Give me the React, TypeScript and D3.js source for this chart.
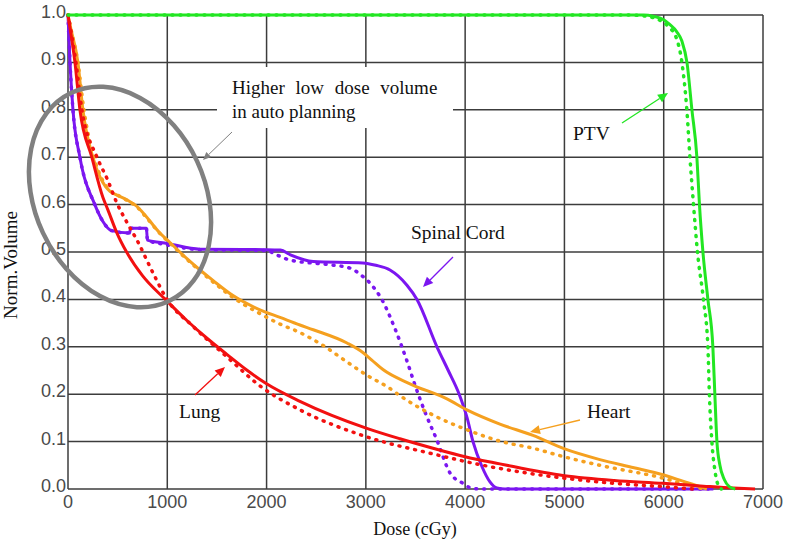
import React from "react";
import * as d3 from "d3";

// ---- Data (dose in cGy, normalised volume) ----
const xTicks = [0, 1000, 2000, 3000, 4000, 5000, 6000, 7000];
const yTicks = [0, 0.1, 0.2, 0.3, 0.4, 0.5, 0.6, 0.7, 0.8, 0.9, 1.0];

const ptvSolid: [number, number][] = [
  [0, 1], [5800, 1], [5900, 0.997], [6000, 0.99], [6060, 0.98], [6130, 0.965], [6183, 0.945],
  [6234, 0.9], [6284, 0.8], [6334, 0.7], [6360, 0.6], [6395, 0.5], [6445, 0.4], [6495, 0.3],
  [6515, 0.2], [6536, 0.1], [6566, 0.05], [6610, 0.02], [6660, 0.005], [6720, 0],
];
const ptvDotted: [number, number][] = [
  [0, 1], [5650, 1], [5800, 0.998], [5950, 0.99], [6050, 0.975], [6130, 0.95], [6183, 0.9],
  [6233, 0.8], [6264, 0.7], [6300, 0.6], [6340, 0.5], [6400, 0.4], [6445, 0.3], [6460, 0.2],
  [6485, 0.1], [6515, 0.04], [6545, 0.01], [6580, 0],
];
const cordSolid: [number, number][] = [
  [0, 1], [20, 0.9], [50, 0.8], [120, 0.7], [270, 0.6], [350, 0.565], [440, 0.545], [620, 0.54],
  [630, 0.55], [790, 0.55], [800, 0.525], [1000, 0.518], [1330, 0.506], [2000, 0.505],
  [2140, 0.504], [2240, 0.494], [2470, 0.48], [2970, 0.477], [3100, 0.472], [3243, 0.462],
  [3414, 0.43], [3515, 0.4], [3716, 0.3], [3830, 0.25], [3940, 0.2], [4020, 0.15], [4079, 0.1],
  [4170, 0.047], [4250, 0.015], [4320, 0.002], [4400, 0], [6500, 0],
];
const cordDotted: [number, number][] = [
  [0, 1], [20, 0.9], [50, 0.8], [120, 0.7], [270, 0.6], [350, 0.565], [440, 0.545], [620, 0.54],
  [630, 0.55], [790, 0.55], [800, 0.525], [1000, 0.515], [1330, 0.505], [2000, 0.503],
  [2100, 0.494], [2236, 0.483], [2640, 0.473], [2840, 0.466], [2960, 0.45], [3060, 0.43],
  [3160, 0.4], [3290, 0.34], [3414, 0.27], [3494, 0.22], [3600, 0.16], [3716, 0.103],
  [3847, 0.034], [3978, 0.012], [4060, 0.002], [4150, 0], [6450, 0],
];
const heartSolid: [number, number][] = [
  [0, 1], [30, 0.97], [100, 0.9], [150, 0.8], [250, 0.7], [330, 0.655], [423, 0.628], [493, 0.62],
  [594, 0.61], [695, 0.596], [755, 0.583], [926, 0.54], [1027, 0.52], [1198, 0.486], [1330, 0.462],
  [1460, 0.44], [1662, 0.408], [1933, 0.378], [2135, 0.362], [2336, 0.346], [2470, 0.336],
  [2810, 0.308], [2970, 0.288], [3060, 0.272], [3172, 0.252], [3444, 0.222], [3817, 0.19],
  [4018, 0.167], [4350, 0.137], [4683, 0.113], [4995, 0.085], [5357, 0.062], [5700, 0.045],
  [5992, 0.03], [6200, 0.016], [6364, 0.005], [6435, 0],
];
const heartDotted: [number, number][] = [
  [0, 1], [30, 0.97], [100, 0.9], [160, 0.8], [260, 0.7], [340, 0.655], [430, 0.628], [500, 0.62],
  [600, 0.608], [700, 0.594], [760, 0.58], [930, 0.538], [1030, 0.518], [1200, 0.484],
  [1330, 0.46], [1460, 0.437], [1662, 0.404], [1933, 0.37], [2135, 0.348], [2336, 0.33],
  [2568, 0.303], [2810, 0.268], [3010, 0.24], [3243, 0.212], [3343, 0.197],
  [3676, 0.156], [4018, 0.125], [4350, 0.101], [4683, 0.086], [4995, 0.068], [5357, 0.05],
  [5992, 0.023], [6250, 0.008], [6400, 0],
];
const lungSolid: [number, number][] = [
  [0, 1], [30, 0.96], [70, 0.9], [120, 0.8], [240, 0.7], [352, 0.615], [400, 0.59], [493, 0.54],
  [590, 0.5], [750, 0.45], [980, 0.4], [1200, 0.355], [1400, 0.318], [1600, 0.284], [1800, 0.251],
  [2000, 0.222], [2336, 0.185], [3010, 0.128], [3343, 0.106], [3676, 0.086], [4000, 0.068],
  [4350, 0.053], [5000, 0.028], [5500, 0.018], [5992, 0.012], [6400, 0.006], [6700, 0.002],
  [6920, 0],
];
const lungDotted: [number, number][] = [
  [0, 1], [35, 0.96], [80, 0.9], [140, 0.8], [292, 0.7], [393, 0.655], [493, 0.603], [600, 0.56],
  [695, 0.525], [856, 0.456], [997, 0.4], [1250, 0.345], [1600, 0.279], [1950, 0.215],
  [2336, 0.167], [3010, 0.11], [3676, 0.074], [4180, 0.05], [4995, 0.023],
  [5500, 0.012], [5992, 0.005], [6300, 0],
];

const PURPLE = "#7b16f0";
const ORANGE = "#f5a01f";
const RED = "#f21010";
const GREEN = "#22e622";

const series = [
  { data: cordSolid, color: PURPLE, dotted: false },
  { data: cordDotted, color: PURPLE, dotted: true },
  { data: heartSolid, color: ORANGE, dotted: false },
  { data: heartDotted, color: ORANGE, dotted: true },
  { data: lungSolid, color: RED, dotted: false },
  { data: lungDotted, color: RED, dotted: true },
  { data: ptvDotted, color: GREEN, dotted: true },
  { data: ptvSolid, color: GREEN, dotted: false },
];

const W = 787;
const H = 548;
const SERIF = "'Liberation Serif', 'Times New Roman', serif";
const SANS = "'Liberation Sans', Arial, sans-serif";

function Arrow({ x1, y1, x2, y2, color, w = 1.3, head = 10, hw = 4.5 }: any) {
  const a = Math.atan2(y2 - y1, x2 - x1);
  const bx = x2 - head * Math.cos(a);
  const by = y2 - head * Math.sin(a);
  const px = -Math.sin(a) * hw;
  const py = Math.cos(a) * hw;
  return (
    <g>
      <line x1={x1} y1={y1} x2={bx} y2={by} stroke={color} strokeWidth={w} />
      <polygon points={`${x2},${y2} ${bx + px},${by + py} ${bx - px},${by - py}`} fill={color} />
    </g>
  );
}

export default function App() {
  const x = d3.scaleLinear().domain([0, 7000]).range([68, 763]);
  const y = d3.scaleLinear().domain([0, 1]).range([489, 15]);
  const line = d3
    .line<[number, number]>()
    .x((d) => x(d[0]))
    .y((d) => y(d[1]))
    .curve(d3.curveMonotoneX);

  const gridColor = "#3c3c3c";

  return (
    <svg width={W} height={H} style={{ position: "absolute", left: 0, top: 0, background: "#fff" }}>
      <rect x={0} y={0} width={W} height={H} fill="#fff" />
      {/* grid */}
      {xTicks.map((t) => (
        <line key={"gx" + t} x1={x(t)} x2={x(t)} y1={y(1)} y2={y(0)} stroke={gridColor} strokeWidth={1.5} />
      ))}
      {yTicks.map((t) => (
        <line key={"gy" + t} x1={x(0)} x2={x(7000)} y1={y(t)} y2={y(t)} stroke={gridColor} strokeWidth={1.5} />
      ))}
      {/* tick labels */}
      {yTicks.map((t) => (
        <text key={"ly" + t} x={66} y={y(t) + 3} textAnchor="end" fontFamily={SANS} fontSize={18} fill="#4a4a4a">
          {t.toFixed(1)}
        </text>
      ))}
      {xTicks.map((t) => (
        <text key={"lx" + t} x={x(t)} y={508} textAnchor="middle" fontFamily={SANS} fontSize={18} fill="#4a4a4a">
          {t}
        </text>
      ))}
      {/* axis titles */}
      <text transform="translate(17,265) rotate(-90)" textAnchor="middle" fontFamily={SERIF} fontSize={19} fill="#111">
        Norm.Volume
      </text>
      <text x={415} y={535} textAnchor="middle" fontFamily={SERIF} fontSize={18} fill="#111">
        Dose (cGy)
      </text>

      {/* annotation box */}
      <rect x={217} y={67} width={236} height={61} fill="#fff" />
      <text x={232} y={94} fontFamily={SERIF} fontSize={19} fill="#111" wordSpacing={6}>
        Higher low dose volume
      </text>
      <text x={232} y={118} fontFamily={SERIF} fontSize={19} fill="#111">
        in auto planning
      </text>

      {/* curves */}
      {series.map((s, i) => (
        <path
          key={i}
          d={line(s.data) || ""}
          fill="none"
          stroke={s.color}
          strokeWidth={s.dotted ? 3.5 : 3}
          strokeDasharray={s.dotted ? "1 7" : undefined}
          strokeLinecap={s.dotted ? "round" : "butt"}
          strokeLinejoin="round"
        />
      ))}

      {/* ellipse */}
      <ellipse cx={120} cy={197} rx={85} ry={115} transform="rotate(-25 120 197)" fill="none" stroke="#808080" strokeWidth={4.5} />
      <Arrow x1={232} y1={132} x2={203} y2={160} color="#808080" w={1} head={8} hw={3.5} />

      {/* labels */}
      <text x={573} y={140} fontFamily={SERIF} fontSize={19.5} fill="#111">PTV</text>
      <Arrow x1={622} y1={123} x2={668} y2={93} color={GREEN} />
      <text x={411} y={239} fontFamily={SERIF} fontSize={19.5} fill="#111">Spinal Cord</text>
      <Arrow x1={453} y1={257} x2={423} y2={287} color={PURPLE} />
      <text x={587} y={418} fontFamily={SERIF} fontSize={19.5} fill="#111">Heart</text>
      <Arrow x1={580} y1={420} x2={530} y2={432} color={ORANGE} />
      <text x={179} y={418} fontFamily={SERIF} fontSize={19.5} fill="#111">Lung</text>
      <Arrow x1={195} y1={395} x2={225} y2={367} color={RED} />
    </svg>
  );
}
